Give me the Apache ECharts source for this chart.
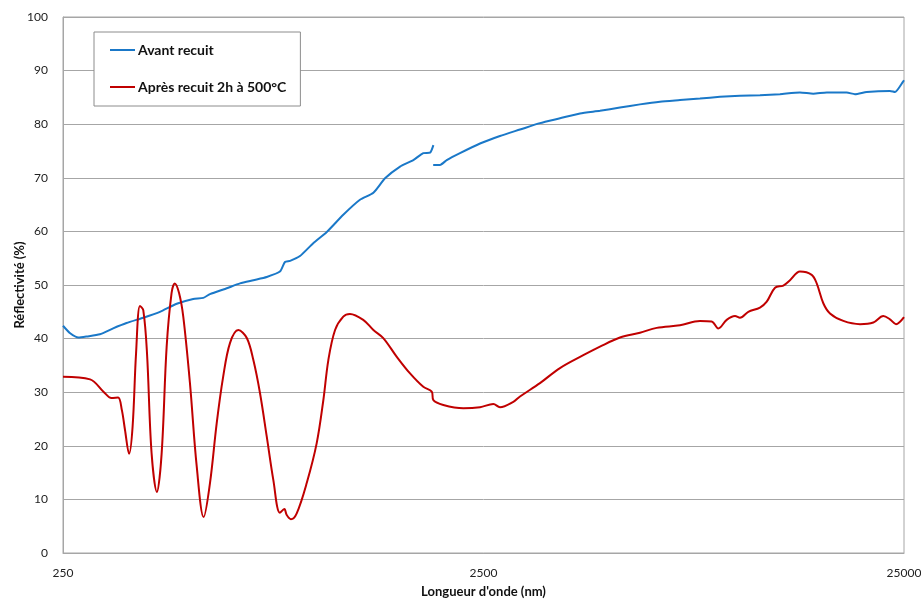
<!DOCTYPE html>
<html>
<head>
<meta charset="utf-8">
<script src="https://cdn.jsdelivr.net/npm/echarts@6/dist/echarts.min.js"></script>
<style>
  html, body { margin: 0; padding: 0; background: #fff; }
  #chart { width: 921px; height: 601px; }
</style>
</head>
<body>
<div id="chart"></div>
<script>
// wavelengths in nm, reflectivity in %
const lambdaMin = 250;
const xTicks = [250, 2500, 25000];

const avantNm = [250, 260, 272, 285, 306, 329, 354, 388, 425, 466, 510, 539, 559, 613, 659, 709, 763, 820, 843, 867, 915, 984, 1060, 1160, 1271, 1368, 1458, 1583, 1702, 1798, 1866, 1900,
  null,
  1898, 1970, 2044, 2198, 2453, 2736, 3053, 3406, 3800, 4240, 4730, 5278, 5889, 6570, 7331, 8179, 9125, 10184, 11362, 12675, 14143, 15213, 16375, 18267, 19115, 20380, 23152, 23798, 24900, 25000];
const avantR = [42.4, 41.0, 40.2, 40.4, 40.8, 41.9, 42.9, 43.9, 45.0, 46.5, 47.4, 47.6, 48.3, 49.4, 50.3, 50.9, 51.5, 52.5, 54.3, 54.5, 55.4, 57.8, 59.9, 63.1, 65.9, 67.2, 69.9, 72.1, 73.3, 74.6, 74.7, 76.1,
  null,
  72.4, 72.4, 73.3, 74.6, 76.4, 77.8, 79.0, 80.2, 81.1, 82.0, 82.5, 83.1, 83.7, 84.2, 84.5, 84.8, 85.1, 85.3, 85.4, 85.6, 85.9, 85.7, 85.9, 85.9, 85.6, 86.0, 86.2, 86.0, 88.0, 88.2];

const apresNm = [250, 290, 312, 326, 338, 345, 351, 359, 366, 373, 381, 388, 396, 406, 418, 429, 441, 453, 461, 472, 483, 501, 520, 540, 559, 580, 601, 624, 653, 684, 709, 735, 763, 791, 820, 840, 851, 871, 899, 950, 1003, 1040, 1069, 1109, 1160, 1203, 1294, 1368, 1444, 1555, 1672, 1798, 1883, 1900, 2006, 2239, 2453, 2638, 2736, 2944, 3053, 3406, 3800, 4318, 4730, 5278, 5889, 6455, 7331, 8179, 8720, 9043, 9468, 9910, 10184, 10658, 11362, 11790, 12337, 12910, 13392, 14143, 15081, 15500, 16071, 16671, 17934, 19649, 21132, 22318, 23152, 23930, 25000];
const apresR = [32.9, 32.4, 30.1, 28.9, 29.0, 26.7, 23.0, 18.5, 23.6, 37.3, 46.1, 45.3, 37.3, 18.7, 11.4, 18.5, 38.5, 48.5, 50.3, 48.5, 44.1, 31.7, 16.1, 6.7, 13.0, 24.2, 32.9, 39.2, 41.6, 40.1, 36.0, 29.9, 21.7, 13.6, 7.5, 8.2, 7.1, 6.3, 7.4, 13.1, 20.5, 28.5, 36.0, 41.6, 44.1, 44.6, 43.5, 41.6, 40.1, 36.6, 33.5, 31.0, 30.1, 28.5, 27.6, 27.0, 27.2, 27.8, 27.2, 28.2, 29.2, 31.7, 34.5, 36.9, 38.5, 40.2, 41.1, 42.0, 42.5, 43.3, 43.2, 41.9, 43.5, 44.2, 43.9, 45.0, 45.8, 46.9, 49.5, 49.9, 50.9, 52.5, 51.9, 50.3, 46.6, 44.7, 43.3, 42.7, 43.0, 44.2, 43.6, 42.7, 44.0];

// x axis is decades above 250 nm
const toDecades = nm => Math.log10(nm / lambdaMin);
const buildPoints = (xs, ys) => xs.map((x, i) => x == null ? [null, null] : [toDecades(x), ys[i]]);

const font = 'Lato, "Open Sans", sans-serif';
const chart = echarts.init(document.getElementById('chart'));

chart.setOption({
  animation: false,
  backgroundColor: '#fff',
  grid: {
    left: 63, right: 17, top: 17, bottom: 48,
    outerBoundsMode: 'none',
    show: true, borderColor: '#a6a6a6', borderWidth: 1
  },
  legend: {
    orient: 'vertical',
    left: 94, top: 32,
    padding: [11, 14, 12, 16],
    itemGap: 23,
    itemWidth: 25, itemHeight: 2,
    icon: 'rect',
    backgroundColor: '#fff',
    borderColor: '#8c8c8c', borderWidth: 1,
    textStyle: { fontFamily: font, fontWeight: 'bold', fontSize: 14, color: '#111', padding: [0, 0, 0, -2] },
    data: ['Avant recuit', 'Après recuit 2h à 500°C']
  },
  xAxis: {
    type: 'value',
    min: 0, max: 2, interval: 1,
    name: "Longueur d'onde (nm)",
    nameLocation: 'middle',
    nameGap: 32,
    nameMoveOverlap: false,
    nameTextStyle: { fontFamily: font, fontWeight: 'bold', fontSize: 13, color: '#111' },
    axisLine: { show: true, lineStyle: { color: '#a6a6a6' } },
    axisTick: { show: false },
    splitLine: { show: false },
    axisLabel: {
      margin: 14,
      fontFamily: font, fontSize: 12, color: '#222',
      formatter: v => String(xTicks[Math.round(v)])
    }
  },
  yAxis: {
    type: 'value',
    min: 0, max: 100, interval: 10,
    name: 'Réflectivité (%)',
    nameLocation: 'middle',
    nameGap: 37,
    nameMoveOverlap: false,
    nameTextStyle: { fontFamily: font, fontWeight: 'bold', fontSize: 13, color: '#111' },
    axisLine: { show: true, lineStyle: { color: '#a6a6a6' } },
    axisTick: { show: false },
    splitLine: { lineStyle: { color: '#a6a6a6' } },
    axisLabel: { margin: 15, fontFamily: font, fontSize: 12, color: '#222' }
  },
  series: [
    {
      name: 'Avant recuit',
      type: 'line',
      data: buildPoints(avantNm, avantR),
      showSymbol: false, symbol: 'none',
      smooth: 0.2,
      connectNulls: false,
      itemStyle: { color: '#1a78c8' },
      lineStyle: { color: '#1a78c8', width: 2 }
    },
    {
      name: 'Après recuit 2h à 500°C',
      type: 'line',
      data: buildPoints(apresNm, apresR),
      showSymbol: false, symbol: 'none',
      smooth: 0.35,
      itemStyle: { color: '#c00000' },
      lineStyle: { color: '#c00000', width: 2 }
    }
  ]
});
</script>
</body>
</html>
